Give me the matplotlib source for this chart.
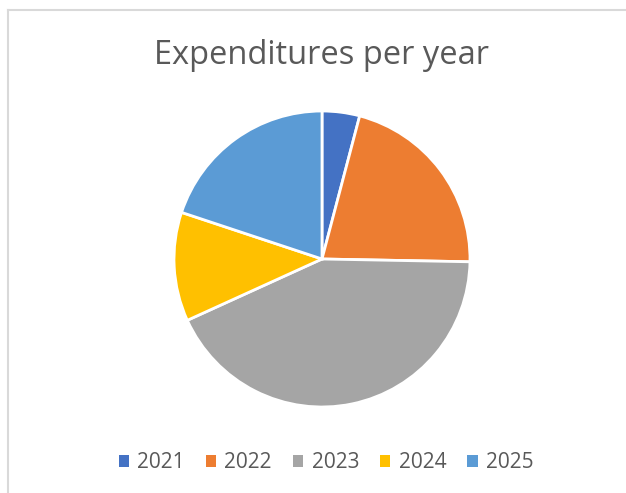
import matplotlib.pyplot as plt
from matplotlib.lines import Line2D
from matplotlib.patches import Patch

years = ['2021', '2022', '2023', '2024', '2025']
shares = [4.1, 21.2, 42.9, 11.9, 19.9]
colors = ['#4472C4', '#ED7D31', '#A5A5A5', '#FFC000', '#5B9BD5']

plt.rcParams['font.family'] = ['Open Sans', 'DejaVu Sans']
text_color = '#595959'

fig = plt.figure(figsize=(6.26, 4.93), dpi=100)

# chart frame (light gray, cut at right/bottom)
fig.add_artist(Line2D([7.5 / 626, 7.5 / 626], [0, 1 - 10 / 493], color='#D9D9D9', lw=1.5))
fig.add_artist(Line2D([7.5 / 626, 1], [1 - 10 / 493, 1 - 10 / 493], color='#D9D9D9', lw=1.5))

ax = fig.add_axes([(322 - 148) / 626, (493 - 259 - 148) / 493, 296 / 626, 296 / 493])
ax.pie(shares, colors=colors, startangle=90, counterclock=False,
       wedgeprops=dict(edgecolor='white', linewidth=2))
ax.set_xlim(-1.0, 1.0)
ax.set_ylim(-1.0, 1.0)
ax.set_aspect('equal')

fig.text(321 / 626, 1 - 55 / 493, 'Expenditures per year', ha='center', va='center',
         fontsize=23.5, color=text_color)

handles = [Patch(facecolor=c, edgecolor='none') for c in colors]
leg = fig.legend(handles, years, loc='center', bbox_to_anchor=(326 / 626, 1 - 463 / 493),
                 ncol=5, frameon=False, fontsize=15, handlelength=0.5, handleheight=0.5,
                 handletextpad=0.4, columnspacing=1.0, labelcolor=text_color)

fig.savefig('out.png', dpi=100)
